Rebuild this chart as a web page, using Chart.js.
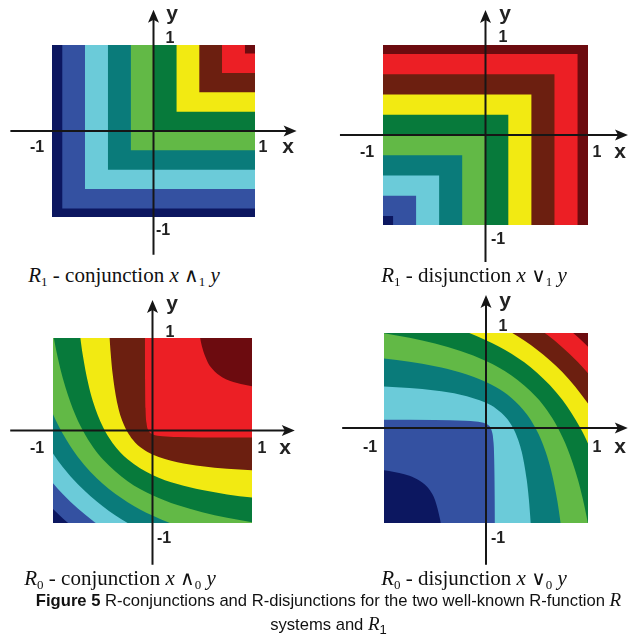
<!DOCTYPE html>
<html>
<head>
<meta charset="utf-8">
<script src="https://cdn.jsdelivr.net/npm/chart.js@4.4.1/dist/chart.umd.min.js"></script>
<style>
  html, body { margin: 0; padding: 0; background: #fff; }
  body { position: relative; width: 629px; height: 643px; overflow: hidden; font-family: "Liberation Sans", Arial, sans-serif; }
  canvas { position: absolute; }
  .lbl { position: absolute; transform: translate(-50%, -50%); font-weight: bold; color: #222; line-height: 1; white-space: nowrap; }
  .num { font-size: 16px; }
  .var { font-size: 21px; }
  .cap { position: absolute; transform: translateX(-50%); font-family: "Liberation Serif", "Times New Roman", serif; font-size: 21px; line-height: 1; white-space: nowrap; color: #111; }
  .cap .s, .fig .s { font-size: 13px; position: relative; top: 4px; }
  .cap .op { font-family: "DejaVu Sans", sans-serif; font-size: 20px; }
  .fig { position: absolute; left: 14px; width: 629px; text-align: center; font-size: 16.6px; line-height: 1; color: #111; white-space: nowrap; }
  .fig i { font-family: "Liberation Serif", "Times New Roman", serif; font-size: 19px; }
</style>
</head>
<body>

<canvas id="p1" width="314" height="262" style="left:0;top:0"></canvas>
<canvas id="p2" width="314" height="270" style="left:315px;top:0"></canvas>
<canvas id="p3" width="314" height="282" style="left:0;top:290px"></canvas>
<canvas id="p4" width="314" height="282" style="left:315px;top:290px"></canvas>

<div class="cap" style="left:124px;top:265px"><i>R</i><span class="s">1</span> - conjunction <i>x</i> <span class="op">∧</span><span class="s">1</span> <i>y</i></div>
<div class="cap" style="left:474px;top:265px"><i>R</i><span class="s">1</span> - disjunction <i>x</i> <span class="op">∨</span><span class="s">1</span> <i>y</i></div>
<div class="cap" style="left:120px;top:568px"><i>R</i><span class="s">0</span> - conjunction <i>x</i> <span class="op">∧</span><span class="s">0</span> <i>y</i></div>
<div class="cap" style="left:474px;top:568px"><i>R</i><span class="s">0</span> - disjunction <i>x</i> <span class="op">∨</span><span class="s">0</span> <i>y</i></div>

<div class="fig" style="top:590px"><b>Figure 5</b> R-conjunctions and R-disjunctions for the two well-known R-function <i>R</i></div>
<div class="fig" style="top:614px">systems and <i>R</i><span class="s">1</span></div>

<script>
    // contour band colours, lowest level first
    const bandColors = ['#0c1760', '#3451a1', '#6bcbd9', '#0a7b7a', '#62b946',
                        '#077a3b', '#f2ea12', '#6c1f10', '#ec1f25', '#6c0b0f'];

    // R1 systems: contour levels of the L-shaped bands
    const r1ConjLevels = [-0.9, -0.675, -0.45, -0.225, 0, 0.225, 0.45, 0.675, 0.9];
    const r1DisjLevels = [-0.9, -0.675, -0.45, -0.225, 0, 0.225, 0.45, 0.675, 0.9];

    // R0 conjunction: band boundaries, [x, y]
    // levels approx -3.16 -2.72 -2.28 -1.84 -1.40 -0.96 -0.52 -0.08 0.37
    const r0ConjCurves = [
        [[-1.1, -0.736], [-1, -0.849], [-0.9, -0.951], [-0.75, -1.088], [-0.5, -1.283], [0, -1.58], [1.1, -1.988]],
        [[-1.1, -0.437], [-1, -0.569], [-0.9, -0.688], [-0.75, -0.842], [-0.6, -0.975], [-0.5, -1.054], [0, -1.36], [1.1, -1.752]],
        [[-1.1, -0.077], [-1, -0.249], [-0.9, -0.397], [-0.75, -0.581], [-0.5, -0.82], [-0.25, -1.0], [0, -1.14], [1.1, -1.511]],
        [[-1.1, 0.448], [-1, 0.175], [-0.9, -0.039], [-0.75, -0.287], [-0.5, -0.577], [-0.25, -0.775], [0, -0.92], [0.25, -1.03], [0.6, -1.146], [1.1, -1.264]],
        [[-1.05, 1.4], [-1, 1.05], [-0.95, 0.778], [-0.9, 0.56], [-0.8, 0.233], [-0.7, 0], [-0.6, -0.175], [-0.5, -0.311],
         [-0.25, -0.548], [0, -0.7], [0.25, -0.806], [0.5, -0.884], [0.75, -0.944], [1, -0.992], [1.1, -1.008]],
        [[-0.747, 1.2], [-0.725, 1.0], [-0.7, 0.812], [-0.65, 0.527], [-0.6, 0.32], [-0.5, 0.042], [-0.4, -0.137], [-0.25, -0.311],
         [0, -0.48], [0.25, -0.579], [0.5, -0.644], [0.75, -0.691], [1, -0.725], [1.1, -0.736]],
        [[-0.441, 1.2], [-0.431, 1.0], [-0.42, 0.832], [-0.4, 0.607], [-0.35, 0.275], [-0.3, 0.095], [-0.2, -0.098], [-0.1, -0.198],
         [0, -0.26], [0.25, -0.344], [0.5, -0.387], [0.75, -0.414], [1, -0.431], [1.1, -0.437]],
        [[-0.0775, 1.2], [-0.077, 1.0], [-0.075, 0.56], [-0.07, 0.24], [-0.06, 0.08], [-0.04, 0], [0, -0.04], [0.1, -0.062],
         [0.25, -0.07], [0.5, -0.0745], [1, -0.077], [1.1, -0.0772]],
        [[0.4525, 1.2], [0.479, 1.0], [0.5, 0.897], [0.55, 0.75], [0.6, 0.668], [0.7, 0.577], [0.85, 0.513], [1, 0.479], [1.1, 0.464]]
    ];

    // R0 disjunction: band boundaries, [x, y]
    // levels approx -0.35 0.09 0.53 0.97 1.41 1.85 2.29 2.73 3.17
    const r0DisjCurves = [
        [[-1.1, -0.432], [-1, -0.444], [-0.8, -0.486], [-0.7, -0.525], [-0.6, -0.595], [-0.55, -0.656], [-0.5, -0.758],
         [-0.45, -0.963], [-0.444, -1.0], [-0.422, -1.2], [1.1, -1.2]],
        [[-1.1, 0.0866], [-0.5, 0.0831], [-0.2, 0.076], [-0.1, 0.0687], [0, 0.045], [0.03, 0.0225], [0.045, 0], [0.06, -0.045],
         [0.07, -0.1125], [0.08, -0.315], [0.085, -0.72], [0.0863, -1.0], [0.0869, -1.2], [1.1, -1.2]],
        [[-1.1, 0.444], [-1, 0.438], [-0.75, 0.42], [-0.5, 0.394], [-0.25, 0.35], [0, 0.265], [0.1, 0.203], [0.2, 0.104],
         [0.265, 0], [0.3, -0.081], [0.35, -0.25], [0.4, -0.55], [0.42, -0.747], [0.438, -1.0], [0.449, -1.2], [1.1, -1.2]],
        [[-1.1, 0.743], [-1, 0.731], [-0.75, 0.697], [-0.5, 0.65], [-0.25, 0.584], [0, 0.485], [0.1, 0.429], [0.25, 0.317],
         [0.4, 0.145], [0.485, 0], [0.55, -0.15], [0.6, -0.301], [0.65, -0.5], [0.7, -0.772], [0.731, -1.0], [0.753, -1.2], [1.1, -1.2]],
        [[-1.1, 1.014], [-1, 0.998], [-0.75, 0.95], [-0.5, 0.89], [-0.25, 0.811], [0, 0.705], [0.25, 0.553], [0.5, 0.318],
         [0.6, 0.183], [0.705, 0], [0.8, -0.22], [0.9, -0.539], [0.95, -0.751], [0.998, -1.0], [1.029, -1.2], [1.1, -1.2]],
        [[-1.1, 1.27], [-1, 1.25], [-0.75, 1.192], [-0.5, 1.122], [-0.25, 1.035], [0, 0.925], [0.25, 0.781], [0.5, 0.582],
         [0.75, 0.294], [0.925, 0], [1, -0.163], [1.1, -0.432]],
        [[-0.5, 1.35], [-0.25, 1.258], [0, 1.145], [0.25, 1.005], [0.5, 0.825], [0.75, 0.587], [1, 0.257], [1.1, 0.087]],
        [[0, 1.365], [0.25, 1.227], [0.5, 1.059], [0.6, 0.981], [0.75, 0.848], [0.9, 0.694], [1, 0.576], [1.1, 0.444]],
        [[0.5, 1.288], [0.75, 1.094], [0.85, 1.004], [0.9, 0.957], [1, 0.855], [1.1, 0.743]]
    ];

    const tickLabels = ['-1', '1'];
    const axisNames = ['x', 'y'];

    // whole square, used as the bottom layer
    const fullSquare = [[-1.1, -1.1], [1.1, -1.1]];

    // arrowed axes through the origin
    const crossAxes = {
        id: 'crossAxes',
        afterDatasetsDraw(chart, args, opts) {
            const {ctx, scales: {x, y}} = chart;
            const xa = x.getPixelForValue(opts.h[0]), xb = x.getPixelForValue(opts.h[1]);
            const ya = y.getPixelForValue(opts.v[0]), yb = y.getPixelForValue(opts.v[1]);
            const x0 = x.getPixelForValue(0), y0 = y.getPixelForValue(0);
            ctx.save();
            ctx.strokeStyle = '#161616';
            ctx.fillStyle = '#161616';
            ctx.lineWidth = 2;
            ctx.beginPath();
            ctx.moveTo(xa, y0); ctx.lineTo(xb - 8, y0);
            ctx.moveTo(x0, ya); ctx.lineTo(x0, yb + 8);
            ctx.stroke();
            ctx.beginPath();
            ctx.moveTo(xb, y0); ctx.lineTo(xb - 13, y0 - 5.5); ctx.lineTo(xb - 10, y0); ctx.lineTo(xb - 13, y0 + 5.5); ctx.closePath();
            ctx.moveTo(x0, yb); ctx.lineTo(x0 - 5.5, yb + 13); ctx.lineTo(x0, yb + 10); ctx.lineTo(x0 + 5.5, yb + 13); ctx.closePath();
            ctx.fill();
            ctx.restore();
        }
    };

    function band(points, color, toY, smooth) {
        return {
            data: points.map(p => ({x: p[0], y: p[1]})),
            backgroundColor: color,
            borderColor: 'rgba(0,0,0,0)',
            borderWidth: 0,
            pointRadius: 0,
            fill: {value: toY},
            tension: 0,
            cubicInterpolationMode: smooth ? 'monotone' : 'default',
            clip: 0
        };
    }

    function makeChart(id, pad, layers, axes) {
        return new Chart(document.getElementById(id), {
            type: 'line',
            data: {datasets: layers.slice().reverse()},   // first dataset is painted last
            options: {
                responsive: false,
                animation: false,
                events: [],
                layout: {padding: pad},
                scales: {
                    x: {type: 'linear', min: -1, max: 1, display: false},
                    y: {type: 'linear', min: -1, max: 1, display: false}
                },
                elements: {line: {capBezierPoints: false}},
                plugins: {legend: {display: false}, tooltip: {enabled: false}, crossAxes: axes}
            },
            plugins: [crossAxes]
        });
    }

    // R1 conjunction
    const l1 = [band(fullSquare, bandColors[0], 1.1)];
    r1ConjLevels.forEach((c, k) => l1.push(band([[c, c], [1.1, c]], bandColors[k + 1], 1.1)));
    makeChart('p1', {left: 52, top: 45, right: 59, bottom: 45}, l1, {h: [-1.41, 1.41], v: [-1.44, 1.41]});

    // R1 disjunction
    const l2 = [band(fullSquare, bandColors[9], 1.1)];
    for (let k = r1DisjLevels.length - 1; k >= 0; k--) {
        const c = r1DisjLevels[k];
        l2.push(band([[-1.1, c], [c, c]], bandColors[k], -1.1));
    }
    makeChart('p2', {left: 68, top: 45, right: 41, bottom: 45}, l2, {h: [-1.42, 1.39], v: [-1.41, 1.39]});

    // R0 conjunction
    const l3 = [band(fullSquare, bandColors[0], 1.1)];
    r0ConjCurves.forEach((pts, k) => l3.push(band(pts, bandColors[k + 1], 1.1, true)));
    makeChart('p3', {left: 53, top: 48, right: 62, bottom: 49}, l3, {h: [-1.43, 1.43], v: [-1.45, 1.41]});

    // R0 disjunction
    const l4 = [band(fullSquare, bandColors[0], 1.1)];
    r0DisjCurves.forEach((pts, k) => l4.push(band(pts, bandColors[k + 1], 1.1, true)));
    makeChart('p4', {left: 69, top: 43, right: 41, bottom: 49}, l4, {h: [-1.41, 1.39], v: [-1.44, 1.40]});

    // axis labels: [left -1, right 1, x, bottom -1, top 1, y] centres on the page
    const labelSpots = [
        [[37, 147], [263, 147], [288, 145], [163, 230], [170, 38], [172, 12]],
        [[367, 152], [597, 152], [620, 150], [498, 239], [503, 37], [505, 12]],
        [[37, 448], [262, 448], [285, 446], [164, 538], [170, 332], [172, 302]],
        [[370, 447], [597, 447], [620, 445], [498, 538], [503, 326], [505, 299]]
    ];
    const labelTexts = [tickLabels[0], tickLabels[1], axisNames[0], tickLabels[0], tickLabels[1], axisNames[1]];
    labelSpots.forEach(spots => {
        spots.forEach((s, i) => {
            const d = document.createElement('div');
            d.className = 'lbl ' + (i === 2 || i === 5 ? 'var' : 'num');
            d.style.left = s[0] + 'px';
            d.style.top = s[1] + 'px';
            d.textContent = labelTexts[i];
            document.body.appendChild(d);
        });
    });
</script>
</body>
</html>
